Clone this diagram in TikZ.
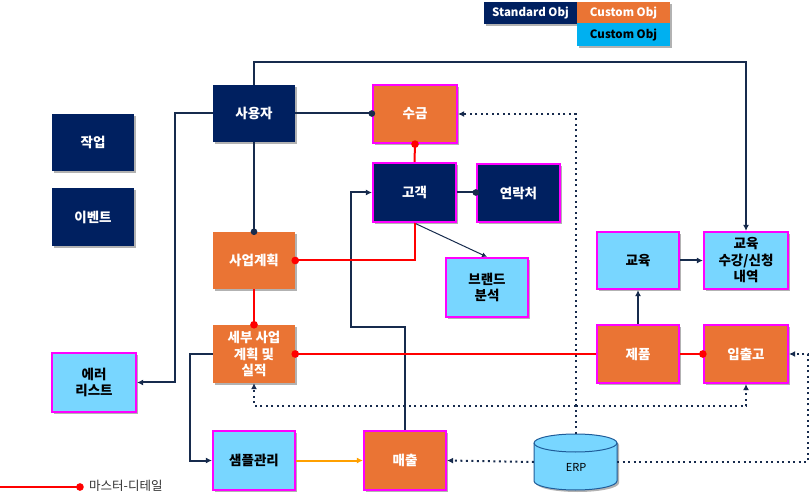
\documentclass[tikz,border=0pt]{standalone}
\usepackage{fontspec}
\setmainfont{Noto Sans CJK KR}
\usetikzlibrary{shapes.geometric,shadows,arrows.meta}
\definecolor{navy}{RGB}{0,32,96}
\definecolor{orng}{RGB}{234,116,52}
\definecolor{lblue}{RGB}{120,214,255}
\definecolor{lcyan}{RGB}{0,176,240}
\definecolor{mag}{RGB}{255,0,255}
\definecolor{lnavy}{RGB}{23,43,77}
\definecolor{arrorange}{RGB}{255,160,0}
\definecolor{cylborder}{RGB}{31,92,153}
\definecolor{legtext}{RGB}{50,50,50}
\begin{document}
\begin{tikzpicture}[x=1pt,y=-1pt,
  box/.style={rectangle, minimum width=82pt, minimum height=57pt, inner sep=1pt, align=center,
    font=\bfseries\fontsize{13.5}{16.5}\selectfont,
    drop shadow={shadow xshift=2pt,shadow yshift=-2pt,fill=black,opacity=0.3}},
  stdbox/.style={box, fill=navy, text=white},
  stdm/.style={stdbox, draw=mag, line width=2.2pt},
  cusbox/.style={box, fill=orng, text=white},
  cusm/.style={cusbox, draw=mag, line width=2.2pt},
  bluem/.style={box, fill=lblue, text=black, draw=mag, line width=2.2pt},
  legbox/.style={box, minimum width=93pt, minimum height=22pt, font=\bfseries\fontsize{11.5}{13}\selectfont},
  conn/.style={draw=lnavy, line width=2pt},
  thinconn/.style={draw=lnavy, line width=1pt},
  md/.style={draw=red, line width=2pt},
  dotl/.style={draw=lnavy, line width=2pt, dash pattern=on 2pt off 3.5pt},
  arr/.style={-{Latex[length=6pt,width=6pt]}},
  navdot/.style={-{Circle[length=6.5pt]}, shorten >=-3.2pt},
  reddot/.style={-{Circle[length=7.5pt]}, shorten >=-3.7pt},
  reddotstart/.style={{Circle[length=7.5pt]}-, shorten <=-3.7pt},
  cyl/.style={fill=lblue, draw=cylborder, line width=1pt}
]
\useasboundingbox (0,0) rectangle (811,502);

% legend
\node[legbox, fill=navy, text=white] (lstd) at (530.5,13) {Standard Obj};
\node[legbox, fill=orng, text=white, minimum height=21pt] (lcus) at (623.5,12.5) {Custom Obj};
\node[legbox, fill=lcyan, text=black, minimum height=23pt] (lcy) at (623.5,34.5) {Custom Obj};

% boxes
\node[stdbox] (user) at (254,113.5) {사용자};
\node[cusm, minimum width=84pt, minimum height=58pt] (sugum) at (415,114) {수금};
\node[stdm, minimum width=83pt, minimum height=59pt] (cust) at (414.5,192.5) {고객};
\node[stdm, minimum width=83pt, minimum height=58pt] (contact) at (518.5,193) {연락처};
\node[stdbox] (task) at (93,142.5) {작업};
\node[stdbox, minimum height=58pt] (event) at (93,217) {이벤트};
\node[cusbox] (plan) at (254,260.5) {사업계획};
\node[cusbox, minimum height=58pt] (detail) at (254,354) {세부 사업\\계획 및\\실적};
\node[bluem, minimum height=59pt] (brand) at (487,287.5) {브랜드\\분석};
\node[bluem] (edu) at (638,260.5) {교육};
\node[bluem, minimum width=84pt] (edureg) at (746,260.5) {교육\\수강/신청\\내역};
\node[cusm, minimum height=58pt] (prod) at (638,354) {제품};
\node[cusm, minimum width=84pt, minimum height=58pt] (inout) at (746,354) {입출고};
\node[bluem, minimum width=84pt, minimum height=59pt] (err) at (94,382.5) {에러\\리스트};
\node[bluem, minimum height=59pt] (smp) at (254,460.5) {샘플관리};
\node[cusm, minimum height=59pt] (sales) at (405,460.5) {매출};

% ERP cylinder
\path[cyl, drop shadow={shadow xshift=2pt,shadow yshift=-2pt,fill=black,opacity=0.3}]
  (534,443) -- (534,481) arc[start angle=180,end angle=360,x radius=41.5pt,y radius=9pt]
  -- (617,443) arc[start angle=0,end angle=180,x radius=41.5pt,y radius=9pt] -- cycle;
\draw[cyl, fill=none] (534,443) arc[start angle=180,end angle=360,x radius=41.5pt,y radius=9pt];
\node[rectangle, minimum width=83pt, minimum height=56pt, inner sep=0pt] (erp) at (575.5,462) {};
\node[font=\fontsize{11}{13}\selectfont, text=black, inner sep=0pt] (erptxt) at (576,467) {ERP};

% helper coordinates
\coordinate (ytop) at (0,62);
\coordinate (xleft) at (175,0);
\coordinate (xsmp) at (190,0);
\coordinate (loopA) at (351,327);
\coordinate (y406) at (0,406);
\coordinate (x808) at (808,0);

% navy connectors
\draw[conn, arr] (user.north) -- (user.north |- ytop) -| (edureg.north);
\draw[conn, arr] (user.west) -| (xleft |- err.east) -- (err.east);
\draw[conn, navdot] (user.east) -- (sugum.west |- user.east);
\draw[conn, navdot] (user.south) -- (plan.north);
\draw[conn, navdot] (cust.east) -- (contact.west |- cust.east);
\draw[thinconn, -{Latex[length=5pt,width=5pt]}] (cust.south) -- (brand.north);
\draw[conn, arr] (sales.north) |- (loopA) |- (cust.west);
\draw[conn, arr] (detail.west) -| (xsmp |- smp.west) -- (smp.west);
\draw[conn, arr] (prod.north) -- (edu.south);
\draw[conn, arr] (edu.east) -- (edureg.west);

% master-detail
\draw[md, reddotstart] (sugum.south) -- (cust.north);
\draw[md, reddot] (cust.south) |- (plan.east);
\draw[md, reddot] (plan.south) -- (detail.north);
\draw[md, reddot] (prod.west) -- (detail.east);
\draw[md, reddot] (prod.east) -- (inout.west);

% orange
\draw[draw=arrorange, line width=2pt, -{Latex[length=6pt,width=6pt]}] (smp.east) -- (sales.west);

% dotted ERP
\draw[dotl, arr] (erp.north) |- (sugum.east);
\draw[dotl, arr] (erp.north |- y406) -| (detail.south);
\draw[dotl, arr] (erp.north |- y406) -| (inout.south);
\draw[dotl, arr] (erp.east) -| (x808 |- inout.east) -- (inout.east);
\draw[dotl, arr] (erp.west) -- (sales.east);

% legend line
\coordinate (lg0) at (0,487);
\coordinate (lg1) at (80,487);
\draw[md, -{Circle[length=7.5pt]}, shorten >=-3.7pt] (lg0) -- (lg1);
\node[anchor=west, font=\fontsize{12.5}{14}\selectfont, text=legtext, inner sep=0pt] (lgtxt) at (89,486) {마스터-디테일};
\end{tikzpicture}
\end{document}
